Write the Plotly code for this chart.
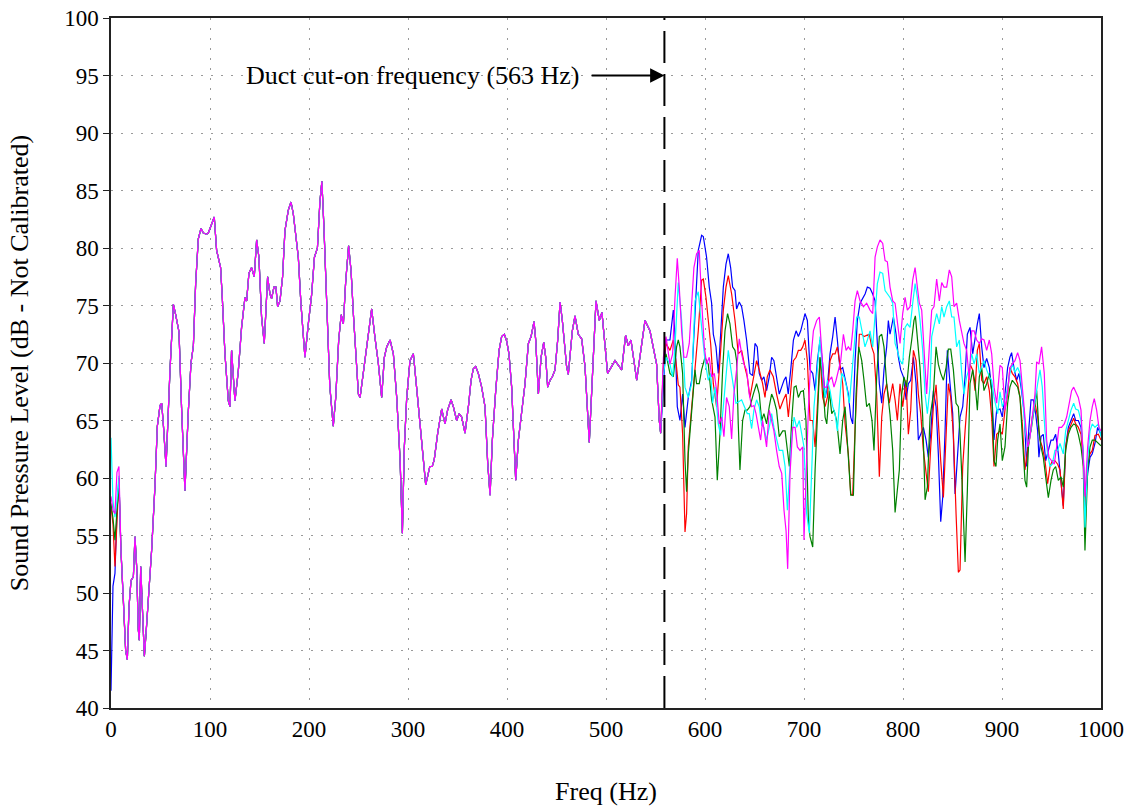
import plotly.graph_objects as go

# ---------------- data ----------------
START_HZ = [0, 2, 4, 6, 8]
BLUE_START = [41.5, 50.6, 51.7, 57.0, 60.0]
RED_START = [57.5, 56.0, 52.3, 57.0, 60.0]
GREEN_START = [57.8, 56.5, 54.6, 57.5, 59.6]
CYAN_START = [63.5, 58.0, 56.6, 58.0, 60.2]
MAGENTA_START = [58.4, 57.2, 56.9, 60.5, 61.0]

# below the cut-on frequency all five microphones overlap
COMMON_HZ = [10, 12.5, 14.8, 16.5, 18.2, 20.2, 22.6, 24.2, 25.9, 27.6, 28.6, 30.0, 31.6, 33.7, 35.4, 37.7,
             41.1, 44.4, 46.8, 49.5, 51.2, 53.0, 55.6, 59.6, 63.0, 65.3, 68.7, 71.4, 74.7, 78.1, 80.8, 83.2,
             85.5, 88.2, 90.9, 93.3, 96.6, 98.3, 101.6, 104.3, 106.7, 109.0, 110.7, 112.4, 115.1, 118.5,
             120.2, 121.8, 125.2, 128.6, 131.9, 135.3, 137.0, 139.3, 142.0, 144.7, 147.1, 149.4, 152.1,
             154.8, 158.2, 160.6, 162.2, 164.6, 166.6, 168.3, 170.7, 173.3, 175.7, 179.1, 181.8, 184.1,
             186.5, 189.2, 191.9, 195.9, 199.3, 202.6, 205.5, 208.5, 211.0, 213.0, 215.0, 218.0, 221.0,
             224.5, 227.0, 230.0, 232.5, 234.7, 237.0, 240.0, 242.5, 245.0, 247.5, 249.9, 251.6, 256.6,
             260.0, 263.3, 266.5, 270.0, 273.4, 276.1, 278.5, 281.9, 285.2, 288.6, 292.0, 294.3, 296.3,
             298.7, 302.0, 305.4, 309.0, 312.0, 315.5, 317.9, 320.5, 322.0, 324.5, 326.5, 330.0, 334.0,
             337.4, 340.0, 343.5, 345.8, 349.2, 351.6, 354.2, 357.6, 361.0, 363.7, 366.0, 368.4, 371.0,
             374.4, 377.8, 380.5, 382.9, 385.2, 388.6, 392.0, 394.6, 397.3, 399.7, 402.0, 404.7, 407.4,
             408.8, 411.5, 414.8, 418.2, 421.6, 424.3, 427.3, 429.0, 431.7, 434.4, 437.1, 439.1, 441.1,
             443.5, 445.8, 448.5, 451.2, 453.6, 455.9, 458.6, 460.2, 461.9, 466.0, 468.7, 472.0, 475.4,
             478.8, 483.1, 489.9, 493.2, 495.9, 501.6, 509.1, 515.8, 519.8, 522.5, 525.2, 531.0, 539.4,
             544.4, 547.1, 551.1, 553.8, 555.2]
COMMON_DB = [53.8, 49.4, 45.0, 44.2, 48.8, 51.1, 51.4, 54.9, 52.3, 46.8, 45.9, 52.3, 49.4, 44.5, 46.5, 49.4,
             53.8, 59.3, 64.5, 66.3, 66.5, 64.5, 61.0, 69.4, 75.1, 74.2, 72.7, 65.8, 58.9, 65.8, 70.0, 71.5,
             76.9, 80.8, 81.7, 81.3, 81.2, 81.3, 82.1, 82.7, 79.8, 78.9, 78.3, 75.7, 70.8, 66.7,
             66.2, 71.1, 66.7, 69.3, 73.1, 75.7, 75.4, 77.8, 78.3, 77.5, 80.7, 79.2, 74.0,
             71.7, 77.5, 76.0, 75.6, 76.6, 76.6, 74.9, 75.4, 77.5, 81.5, 83.3, 84.0, 83.0,
             80.9, 79.2, 75.1, 70.5, 73.4, 75.9, 79.2, 80.0, 84.0, 85.8, 82.0, 75.0, 68.0,
             64.5, 67.0, 72.0, 74.2, 73.4, 77.0, 80.2, 78.0, 74.0, 70.5, 67.3, 67.0, 70.5,
             72.5, 74.7, 72.3, 70.0, 67.0, 70.5, 71.4, 72.0, 70.8, 67.0, 61.6, 55.2, 62.7,
             67.0, 70.2, 70.8, 67.6, 64.7, 61.5, 59.4, 60.4, 61.0, 61.0, 61.6, 63.9, 66.0,
             64.7, 65.9, 66.8, 66.2, 65.0, 65.6, 65.3, 63.9, 66.2, 68.5, 69.5, 69.7, 69.1,
             67.9, 66.2, 61.3, 58.5, 63.3, 67.6, 71.1, 72.3, 72.5, 71.9, 70.8, 67.9, 62.1,
             59.8, 63.3, 65.6, 68.2, 71.7, 72.3, 73.6, 72.0, 67.3, 70.5, 71.8, 70.5, 67.9,
             68.5, 68.8, 69.4, 72.0, 75.3, 73.7, 71.1, 69.7, 69.0, 72.8, 74.1, 72.5, 72.1,
             69.7, 63.1, 75.4, 73.7, 74.4, 69.1, 70.2, 69.4, 72.4, 71.5, 72.0, 68.5, 73.7,
             72.8, 71.7, 69.9, 65.0, 63.9]

BLUE_HI_HZ = [558, 560.6, 564.6, 568, 569.7, 572, 574.7, 577.4, 579.8, 583.1, 586.5, 589.9, 593.2, 596.6,
              598.3, 601.6, 604.3, 606.7, 608.4, 611.1, 613.4, 615.8, 618.5, 621.2, 623.5, 625.9, 627.9,
              630.3, 631.9, 634.6, 637, 639.3, 642, 645.4, 648.1, 650.5, 652.8, 654.8, 657.2, 659.5,
              662.2, 664.9, 667.3, 669.6, 672.3, 675, 677.4, 679.8, 681.8, 684.1, 686.6, 689.3, 692,
              694.3, 696.7, 698.7, 701, 703.4, 706.1, 708.8, 711.2, 713.5, 716.2, 718.9, 721.3, 723.6,
              726.3, 729, 731.4, 733.7, 736.4, 739.1, 741.5, 744.8, 747.2, 749.2, 751.6, 753.9, 756.6,
              759.3, 761.7, 764, 766.7, 769.4, 771.8, 774.1, 776.1, 778.5, 780.8, 783.5, 785.2, 786.9,
              790.3, 793, 795.3, 797.7, 800.4, 803.1, 805.4, 807.8, 810.5, 813.2, 815.5, 817.9, 820.6,
              823.3, 825.6, 828, 830.7, 833.4, 835.7, 838.1, 840.1, 842.5, 844.8, 847.5, 850.2, 852.6,
              854.9, 857.6, 860.3, 862.7, 865, 867.7, 870.4, 872.8, 875.1, 877.1, 879.5, 881.8, 884.5,
              887.2, 889.6, 891.9, 894.6, 898, 900.3, 903, 905.7, 908, 909.7, 912.4, 914.8, 917.1,
              919.8, 922.5, 924.9, 927.2, 929.3, 931.6, 934, 936, 937.3, 939.4, 941.7, 944.1, 946.8,
              949.5, 951.8, 954.2, 956.9, 959.6, 961.9, 964.3, 967, 969.7, 972.4, 974.4, 977.1, 979.8,
              982.1, 983.8, 986.5, 988.9, 991.2, 993.9, 996.6, 1000]
BLUE_HI_DB = [68.0, 72.0, 72.0, 74.6, 72.5, 66.2, 65.0, 67.3, 64.4, 67.0, 68.5, 74.3, 79.8, 81.1,
              81.0, 79.2, 76.6, 75.2, 72.5, 71.4, 69.1, 72.5, 76.6, 78.6, 79.5, 78.3, 76.6,
              76.3, 74.7, 75.3, 74.9, 73.7, 72.0, 69.1, 68.9, 71.7, 71.4, 69.1, 68.5, 68.8,
              67.6, 68.8, 70.5, 70.2, 68.8, 67.3, 67.9, 68.5, 68.8, 67.3, 69.4, 72.0, 72.8,
              72.3, 72.8, 73.4, 74.3, 73.7, 69.4, 69.1, 67.6, 70.2, 72.0, 69.9, 67.0, 67.9,
              70.8, 72.3, 74.0, 72.0, 69.4, 69.6, 68.5, 67.3, 65.3, 64.7, 70.2, 73.7, 75.2,
              75.7, 76.0, 76.6, 76.5, 76.0, 75.4, 71.7, 68.2, 66.5, 69.4, 71.4, 73.7, 72.5,
              74.0, 72.5, 70.5, 69.4, 68.8, 66.8, 68.2, 68.5, 70.5, 68.2, 63.3, 63.8, 64.4,
              63.3, 61.8, 63.8, 67.6, 66.2, 62.1, 56.2, 58.3, 64.1, 71.1, 68.2, 65.6, 58.6,
              62.1, 65.3, 66.2, 68.8, 72.5, 73.1, 70.8, 72.3, 73.4, 74.3, 71.4, 69.6, 70.4,
              69.6, 67.6, 63.3, 65.9, 66.0, 65.3, 67.3, 69.6, 70.5, 70.9, 69.4, 68.5, 69.1,
              67.6, 65.6, 61.0, 64.4, 66.8, 66.8, 65.6, 64.1, 61.8, 63.6, 63.8, 61.5, 62.4,
              63.3, 63.3, 63.8, 62.1, 59.8, 57.6, 62.7, 64.4, 65.0, 65.6, 65.0, 65.0, 64.4,
              62.1, 57.2, 60.4, 61.8, 62.1, 63.0, 64.4, 63.8]

RED_HI_HZ = [558, 560.6, 564.6, 568, 571.3, 573, 574.7, 577.4, 579.8, 581.4, 583.1, 586.5, 589.9, 593.2,
             596.6, 598.3, 601, 603.3, 605.7, 608.4, 611.7, 615.1, 618.5, 621.2, 623.5, 626.9, 630.3,
             633.6, 637, 640.4, 642.7, 645.4, 648.8, 652.1, 654.8, 658.2, 660.6, 662.9, 665.6, 669,
             672.3, 675.7, 679.2, 681.9, 684.2, 686.6, 689.3, 692, 694.3, 696.7, 698.7, 701, 703.4,
             706.1, 708.8, 711.2, 713.5, 716.2, 718.9, 721.3, 723.6, 726.3, 729, 731.4, 733.7, 736.4,
             739.1, 741.5, 744.8, 747.2, 749.2, 751.6, 753.9, 755.9, 758.3, 760.6, 763.3, 766, 768.4,
             770.7, 773.4, 776.1, 778.5, 780.8, 783.5, 786.2, 789.6, 792, 794.3, 797, 799.7, 803.1,
             805.4, 807.8, 810.5, 813.2, 815.5, 817.9, 820.6, 823.3, 825.6, 828, 830.7, 833.4, 835.7,
             838.1, 840.8, 843.5, 845.8, 848.2, 850.9, 853.6, 855.9, 857.6, 860.3, 862.7, 865, 867.7,
             870.4, 872.8, 875.1, 877.1, 879.5, 881.8, 884.5, 887.2, 889.6, 891.9, 894.6, 898, 900.3,
             903, 905.7, 908, 910.4, 913.1, 915.8, 918.2, 920.5, 923.2, 925.9, 928.3, 930.6, 933.3,
             936, 938.4, 940.7, 943.4, 946.1, 948.5, 950.8, 953.5, 956.2, 958.6, 961.9, 964.3, 967,
             969.7, 972.4, 974.4, 977.1, 979.8, 982.1, 983.8, 986.5, 988.9, 991.2, 993.9, 997.3, 1000]
RED_HI_DB = [70.0, 71.7, 71.1, 72.0, 69.6, 68.1, 67.9, 63.8, 55.3, 56.9, 62.7, 66.2, 69.6, 72.8,
             77.2, 77.3, 75.7, 73.7, 71.7, 68.2, 66.2, 70.2, 74.6, 76.6, 77.6, 76.0, 73.7,
             70.8, 71.1, 69.6, 68.8, 67.0, 68.8, 70.2, 69.4, 68.2, 67.0, 68.8, 69.4, 68.8,
             67.3, 66.0, 66.8, 67.3, 65.3, 67.9, 70.2, 70.5, 71.1, 71.1, 71.4, 72.0, 70.2,
             65.0, 65.0, 62.7, 66.2, 70.5, 67.0, 66.2, 67.0, 70.2, 70.8, 70.8, 71.4, 69.9,
             68.2, 64.7, 62.1, 58.6, 58.5, 64.4, 69.4, 72.5, 72.5, 72.3, 72.4, 72.5, 71.4,
             70.8, 67.3, 60.1, 65.3, 67.3, 68.2, 66.5, 68.2, 66.8, 65.0, 68.2, 66.2, 68.5,
             63.8, 65.9, 71.1, 70.2, 67.3, 65.6, 62.4, 60.4, 58.8, 62.7, 66.2, 68.1, 64.4,
             61.5, 58.3, 63.8, 68.2, 67.0, 63.8, 56.9, 51.8, 52.0, 61.0, 64.1, 66.8, 69.9,
             69.4, 67.6, 71.1, 71.7, 68.5, 68.2, 68.8, 67.6, 65.3, 61.0, 63.8, 64.1, 63.8,
             65.9, 67.3, 69.6, 69.1, 68.8, 68.2, 67.0, 64.7, 60.7, 62.4, 63.6, 65.3, 66.5,
             65.3, 63.3, 62.7, 61.5, 59.5, 61.0, 61.5, 61.5, 61.2, 60.7, 57.3, 62.7, 64.1,
             64.7, 65.2, 64.7, 64.4, 63.8, 61.5, 57.5, 61.2, 62.1, 62.4, 63.7, 63.8, 63.3]

GREEN_HI_HZ = [558, 560.6, 564.6, 568, 571.3, 573, 574.7, 577.4, 579.8, 581.4, 583.1, 586.5, 589.9, 591.5,
               594.2, 596.6, 600, 603.3, 606.7, 610.1, 612.4, 615.1, 617.8, 620.2, 622.8, 625.2, 627.9,
               630.3, 631.9, 633.6, 635.3, 638, 640.4, 642.7, 645.4, 648.8, 652.1, 654.8, 657.2, 659.5,
               662.2, 664.9, 667.3, 669.6, 672.3, 675, 678.5, 680.9, 683.2, 685.2, 687.6, 690, 692,
               694.3, 696.7, 699.4, 702, 704.4, 706.1, 708.8, 711.2, 713.5, 716.2, 718.9, 721.3, 723,
               725.6, 728, 730.3, 733, 736.4, 739.1, 741.5, 744.8, 747.2, 749.9, 752.6, 755.3, 758.3,
               760.6, 763.3, 766, 768.7, 770.7, 773.4, 776.1, 778.5, 780.8, 783.5, 786.9, 789.6, 792,
               794.3, 796.3, 798.7, 801, 803.7, 806.4, 808.8, 811.1, 812.5, 814.5, 817.2, 819.9, 822.3,
               824.6, 827.3, 830.7, 833.4, 835.7, 838.1, 840.8, 843.5, 845.8, 848.2, 850.9, 853.6, 855.9,
               857.6, 860.3, 862.7, 865, 867.7, 870.4, 872.8, 875.1, 877.1, 879.5, 881.8, 884.5, 887.2,
               889.6, 891.9, 893.9, 895.6, 898, 900.3, 903, 905.7, 908, 910.4, 913.1, 915.8, 918.2,
               920.5, 923.2, 924.9, 927.2, 929.3, 931.6, 933.3, 935, 937.3, 939.4, 941.7, 944.1, 946.8,
               949.5, 951.8, 954.2, 956.9, 959.6, 961.9, 964.3, 967, 969.7, 972.4, 974.4, 977.1, 979.8,
               982.1, 983.8, 986.5, 988.9, 991.2, 993.9, 997.3, 1000]
GREEN_HI_DB = [69.5, 70.8, 69.1, 68.8, 71.4, 72.0, 71.4, 69.1, 61.5, 58.8, 62.1, 66.2, 69.4, 68.2,
               68.2, 69.4, 70.5, 69.9, 66.8, 65.3, 59.8, 63.8, 69.4, 72.8, 74.3, 73.4, 71.4,
               71.1, 70.2, 64.7, 60.7, 65.0, 65.9, 65.9, 66.2, 67.3, 68.2, 67.3, 65.0, 65.6,
               64.7, 66.2, 67.3, 66.8, 65.9, 63.6, 64.1, 64.1, 62.1, 61.0, 65.0, 67.9, 68.0,
               67.0, 67.5, 67.6, 65.0, 56.3, 54.9, 54.0, 60.7, 65.3, 70.5, 68.5, 65.3, 64.7,
               67.6, 65.6, 65.9, 65.0, 62.1, 65.0, 66.2, 61.8, 58.5, 58.5, 67.3, 71.4, 70.2,
               68.5, 66.2, 66.5, 65.0, 62.4, 68.8, 72.3, 72.5, 71.4, 68.2, 65.5, 62.4, 57.0,
               59.2, 60.7, 67.3, 68.8, 67.9, 70.5, 72.0, 73.7, 74.1, 72.0, 69.6, 65.3, 58.1,
               59.2, 65.3, 67.3, 71.4, 69.9, 69.1, 68.5, 69.6, 71.2, 71.2, 69.4, 66.5, 66.2,
               63.8, 58.3, 52.7, 58.9, 68.2, 69.4, 68.2, 65.9, 68.8, 69.6, 67.6, 68.2, 69.1,
               67.6, 61.5, 61.0, 63.3, 64.7, 61.5, 62.7, 66.5, 67.9, 68.5, 68.2, 67.9, 67.0,
               64.1, 59.8, 59.2, 63.6, 64.1, 65.3, 66.5, 67.6, 64.1, 62.7, 61.8, 60.1, 58.3,
               59.8, 60.7, 61.0, 59.8, 60.1, 59.2, 62.4, 63.8, 64.4, 64.7, 64.6, 63.8, 62.7,
               61.0, 53.7, 60.7, 62.7, 63.3, 63.3, 63.0, 62.8]

CYAN_HI_HZ = [558, 560.6, 564.6, 567.3, 569.7, 573, 576.4, 579.8, 583.1, 586.5, 589.9, 593.2, 596.6, 600,
              603.3, 605.7, 607.7, 610.1, 613.4, 615.8, 618.5, 621.8, 623.5, 625.9, 628.6, 631.3, 633.6,
              637, 639.3, 642.7, 644.7, 647.1, 649.4, 652.1, 654.8, 657.2, 659.5, 662.2, 664.9, 667.3,
              669.6, 672.3, 675, 678.5, 680.9, 683.2, 685.2, 687.6, 690, 692.6, 695.3, 697.7, 700,
              702.7, 705.4, 707.8, 710.1, 712.8, 716.2, 718.9, 721.3, 723.6, 726.3, 729, 731.4, 733.7,
              735.7, 738.1, 740.4, 743.1, 745.8, 748.2, 750.5, 753.2, 755.9, 759.3, 761.6, 764, 766.7,
              769.4, 771.8, 774.1, 776.8, 779.5, 781.9, 784.2, 786.9, 789.6, 792, 794.3, 797, 799.7,
              802.1, 804.4, 807.1, 809.8, 812.2, 814.5, 817.2, 819.9, 822.3, 824.6, 827.3, 829, 831.3,
              834, 836.7, 839.1, 841.4, 844.1, 846.8, 849.2, 851.5, 854.2, 856.9, 859.3, 861.6, 864.3,
              867, 869.4, 871.8, 874.4, 877.1, 879.5, 881.9, 884.5, 887.2, 889.6, 892, 895.6, 898,
              900.3, 903, 905.7, 908, 910.4, 913.1, 915.8, 918.2, 920.5, 923.2, 925.9, 928.3, 930.6,
              933.3, 936, 938.4, 940.7, 943.4, 946.1, 948.5, 950.8, 953.5, 956.2, 958.6, 961.9, 964.3,
              967, 969.7, 972.4, 974.4, 977.1, 979.8, 982.1, 983.8, 986.5, 988.9, 991.2, 993.9, 997.3, 1000]
CYAN_HI_DB = [69.0, 70.5, 69.9, 68.8, 71.4, 77.0, 73.7, 67.9, 67.0, 68.2, 75.4, 76.2, 73.1, 70.2,
              68.5, 69.1, 66.5, 67.9, 64.7, 63.7, 66.2, 69.4, 71.1, 69.6, 68.2, 66.5, 66.6,
              66.8, 66.3, 65.6, 65.6, 64.3, 65.9, 66.8, 66.2, 64.6, 64.4, 63.3, 64.4, 65.6,
              64.4, 63.3, 62.4, 62.4, 61.0, 57.2, 60.1, 63.6, 65.3, 64.4, 65.0, 63.8, 62.7,
              56.9, 55.2, 60.7, 66.2, 68.8, 72.3, 68.8, 67.0, 68.5, 67.6, 66.2, 65.6, 64.1,
              66.8, 69.1, 68.8, 67.9, 66.5, 68.8, 70.8, 74.0, 74.0, 72.3, 71.4, 72.0, 72.8,
              71.4, 74.3, 76.9, 77.9, 77.8, 76.3, 76.0, 75.7, 75.2, 71.7, 71.1, 70.2, 69.9,
              73.1, 73.4, 73.1, 75.2, 76.9, 75.7, 73.7, 71.1, 67.3, 65.6, 67.9, 72.3, 73.1,
              74.3, 73.4, 74.9, 74.0, 74.9, 75.4, 74.0, 74.0, 71.4, 72.0, 69.1, 67.3, 68.8,
              69.6, 70.8, 69.9, 70.8, 69.1, 69.6, 70.2, 69.4, 68.8, 68.5, 67.0, 65.6, 67.5,
              66.2, 66.8, 67.9, 69.1, 69.9, 69.2, 69.6, 69.1, 67.3, 64.4, 62.7, 63.6, 65.0,
              66.8, 68.2, 69.4, 67.9, 64.1, 62.1, 61.0, 61.2, 62.4, 62.4, 63.0, 62.1, 64.1,
              65.0, 65.9, 66.5, 66.0, 65.9, 65.0, 62.1, 55.7, 61.5, 64.1, 64.7, 64.4, 64.7, 63.6]

MAGENTA_HI_HZ = [558, 560.6, 564.6, 567.3, 569.7, 572, 574, 576.4, 578.7, 581.4, 584.1, 586.5, 588.8, 591.5,
                 594.2, 596.6, 599.3, 601.6, 604.3, 606.7, 609.4, 611.7, 614.4, 616.8, 619.1, 621.8, 624.5,
                 626.9, 629.2, 631.9, 634.6, 637, 639.3, 642, 644.7, 647.1, 649.4, 651.5, 653.8, 656.2,
                 658.2, 660.6, 662.2, 664.9, 667.3, 669.6, 672.3, 675, 677.5, 679.8, 681.9, 683.5, 685.9,
                 688.6, 691, 693.3, 696, 698.7, 700, 702, 704.4, 706.8, 709.5, 712.8, 715.5, 717.9,
                 720.2, 723, 725.6, 728, 730.3, 732.4, 734.7, 737.1, 739.8, 742.5, 744.8, 747.2, 749.2,
                 751.6, 753.9, 756.6, 760, 763.3, 766.7, 769.4, 771.8, 774.1, 776.8, 779.5, 781.9, 784.2,
                 786.9, 789.6, 792, 794.3, 797, 799.7, 802.1, 804.4, 807.1, 809.8, 812.2, 814.5, 816.5,
                 818.9, 821.2, 823.9, 826.6, 829, 831.3, 834, 836.7, 839.1, 841.4, 844.1, 846.8, 849.2,
                 851.5, 854.2, 856.9, 859.3, 861.6, 864.3, 867, 869.4, 871.8, 874.4, 877.1, 879.5, 881.9,
                 884.5, 887.2, 889.6, 892, 894.6, 898, 900.3, 903, 905.7, 908, 910.4, 913.1, 915.8,
                 918.2, 920.5, 923.2, 925.9, 928.3, 930.6, 933.3, 935, 937.3, 940, 942.7, 945.1, 947.4,
                 950.1, 952.8, 955.2, 957.5, 960.2, 962.9, 965.3, 967.6, 970.3, 972.4, 974.4, 977.1, 979.8,
                 982.1, 983.8, 986.5, 988.9, 991.2, 993.2, 995.6, 997.9, 1000]
MAGENTA_HI_DB = [70.5, 72.3, 69.9, 70.8, 75.7, 79.1, 76.6, 72.8, 70.5, 70.5, 71.7, 75.2, 78.3, 79.5,
                 79.8, 75.4, 71.4, 69.9, 70.5, 68.8, 69.1, 67.6, 64.7, 65.3, 63.6, 67.0, 66.2,
                 63.4, 67.3, 69.4, 72.1, 70.8, 69.9, 69.4, 67.3, 66.2, 66.3, 65.6, 64.4, 63.3,
                 65.0, 63.8, 62.7, 65.9, 65.0, 64.1, 62.4, 61.0, 60.4, 57.2, 55.4, 52.1, 60.4,
                 64.4, 64.4, 62.7, 62.4, 62.7, 54.6, 60.4, 65.9, 70.2, 72.8, 73.7, 74.0, 71.1,
                 67.9, 67.9, 68.5, 68.8, 67.9, 68.5, 69.4, 70.2, 72.5, 71.1, 71.4, 71.1, 72.8,
                 75.4, 76.3, 75.4, 74.9, 75.2, 74.6, 74.3, 79.2, 80.1, 80.7, 80.4, 78.9, 78.8,
                 76.6, 75.4, 75.2, 73.7, 71.7, 74.3, 75.7, 74.6, 74.9, 77.2, 78.3, 76.6, 75.2,
                 74.6, 70.8, 67.3, 71.4, 74.6, 74.9, 77.3, 75.4, 77.0, 76.6, 76.6, 78.1, 77.5,
                 74.9, 75.2, 73.7, 72.8, 71.7, 71.1, 68.5, 72.8, 72.8, 72.0, 71.7, 72.1, 72.0,
                 71.1, 72.0, 70.8, 67.9, 66.5, 69.8, 69.6, 65.9, 67.6, 69.6, 69.9, 70.2, 70.9,
                 70.2, 67.9, 65.0, 62.7, 63.6, 65.6, 67.3, 70.1, 69.9, 71.4, 69.1, 63.3, 61.8,
                 61.5, 61.2, 62.7, 64.4, 64.4, 64.7, 65.3, 66.5, 67.6, 67.9, 67.5, 67.0, 65.9,
                 61.8, 58.4, 62.7, 65.0, 66.2, 66.9, 65.9, 64.4, 64.1]

CUT_ON_HZ = 559          # position of the dashed line as drawn in the reference
ARROW_TAIL_HZ = 484
X_TICKS = list(range(0, 1001, 100))
Y_TICKS = list(range(40, 101, 5))

SERIES = [
    ("blue", "#0000FF", BLUE_START, BLUE_HI_HZ, BLUE_HI_DB),
    ("red", "#FF0000", RED_START, RED_HI_HZ, RED_HI_DB),
    ("green", "#008000", GREEN_START, GREEN_HI_HZ, GREEN_HI_DB),
    ("cyan", "#00FFFF", CYAN_START, CYAN_HI_HZ, CYAN_HI_DB),
    ("magenta", "#FF00FF", MAGENTA_START, MAGENTA_HI_HZ, MAGENTA_HI_DB),
]

FONT = "Liberation Serif"

fig = go.Figure()
for name, color, start, hi_hz, hi_db in SERIES:
    xs = START_HZ + COMMON_HZ + hi_hz
    ys = start + COMMON_DB + hi_db
    fig.add_trace(go.Scatter(x=xs, y=ys, mode="lines", name=name,
                             line=dict(color=color, width=1.2), showlegend=False,
                             hoverinfo="skip"))

fig.add_shape(type="line", x0=CUT_ON_HZ, x1=CUT_ON_HZ, y0=0, y1=1, xref="x", yref="paper",
              line=dict(color="black", width=2, dash="32px,11px"))

fig.add_annotation(x=CUT_ON_HZ, y=95, ax=ARROW_TAIL_HZ, ay=95, axref="x", ayref="y",
                   xref="x", yref="y", text="", showarrow=True, arrowhead=2,
                   arrowsize=1.3, arrowwidth=2.2, arrowcolor="black")
fig.add_annotation(x=ARROW_TAIL_HZ - 8, y=95, xref="x", yref="y", xanchor="right",
                   text="Duct cut-on frequency (563 Hz)", showarrow=False,
                   font=dict(family=FONT, size=26, color="black"))

axis_common = dict(showline=True, mirror=True, linecolor="#222", linewidth=1.5,
                   showgrid=True, gridcolor="#9a9a9a", gridwidth=1, griddash="2px,8px",
                   zeroline=False, automargin=False)

fig.update_layout(
    width=1134, height=810,
    margin=dict(l=111, r=33, t=18, b=102),
    paper_bgcolor="white", plot_bgcolor="white",
    xaxis=dict(range=[0, 1000], tickvals=X_TICKS, ticks="",
               tickfont=dict(family=FONT, size=23, color="black"),
               title=dict(text="Freq (Hz)", font=dict(family=FONT, size=26, color="black"), standoff=40),
               **axis_common),
    yaxis=dict(range=[40, 100], tickvals=Y_TICKS,
               ticks="outside", ticklen=6, tickcolor="#222", tickwidth=1.2,
               tickfont=dict(family=FONT, size=23, color="black"),
               title=dict(text="Sound Pressure Level (dB - Not Calibrated)",
                          font=dict(family=FONT, size=26, color="black"), standoff=28),
               **axis_common),
)

fig.write_html("out.html")
